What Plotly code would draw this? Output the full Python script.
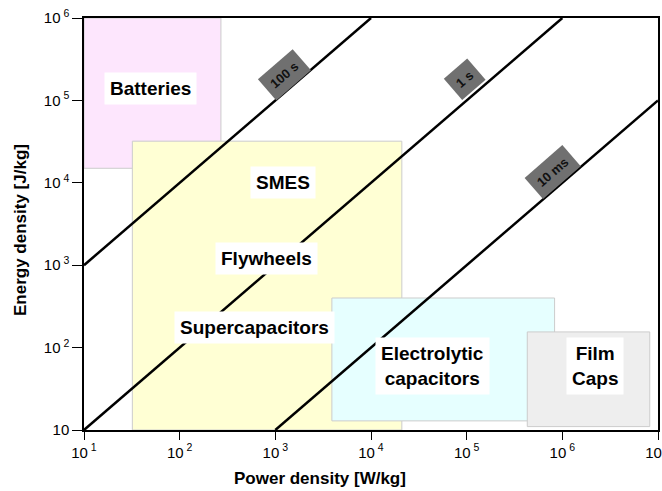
import math
import plotly.graph_objects as go

# Technology regions: [P_min, P_max] W/kg, [E_min, E_max] J/kg
regions = ["Batteries", "SMES/Flywheels/Supercapacitors", "Electrolytic capacitors", "Film Caps"]
p_min = [10, 32, 3.9e3, 4.3e5]
p_max = [270, 2.1e4, 8.3e5, 8.2e6]
e_min = [1.5e4, 10, 12.9, 11]
e_max = [1e6, 3.2e4, 400, 155]
fills = ["#fde6fd", "#ffffd4", "#e6ffff", "#eeeeee"]

# Region labels (text, P, E)
label_text = ["Batteries", "SMES", "Flywheels", "Supercapacitors",
              "Electrolytic<br>capacitors", "Film<br>Caps"]
label_p = [49, 1200, 800, 600, 4.4e4, 2.2e6]
label_e = [1.4e5, 1.0e4, 1.2e3, 1.75e2, 60, 60]

# Constant discharge-time lines E = P * t
time_const = [100, 1, 0.01]
time_label = ["100 s", "1 s", "10 ms"]
time_label_p = [1260, 9.5e4, 7.8e5]
time_label_e = [2.05e5, 1.78e5, 1.35e4]

x_range = [10, 1e7]
y_range = [10, 1e6]

fig = go.Figure()

for i in range(len(regions)):
    fig.add_trace(go.Scatter(
        x=[p_min[i], p_max[i], p_max[i], p_min[i], p_min[i]],
        y=[e_min[i], e_min[i], e_max[i], e_max[i], e_min[i]],
        mode="lines", fill="toself", fillcolor=fills[i],
        line=dict(color="#cccccc", width=1), hoverinfo="skip", showlegend=False))

for t in time_const:
    x0 = max(x_range[0], y_range[0] / t)
    x1 = min(x_range[1], y_range[1] / t)
    fig.add_trace(go.Scatter(x=[x0, x1], y=[x0 * t, x1 * t], mode="lines",
                             line=dict(color="black", width=2.5),
                             hoverinfo="skip", showlegend=False))

font_main = "Liberation Sans, Arial, Helvetica, sans-serif"

for txt, p, e in zip(label_text, label_p, label_e):
    fig.add_annotation(x=math.log10(p), y=math.log10(e), text="<b>" + txt + "</b>",
                       showarrow=False, bgcolor="white", borderpad=5,
                       font=dict(family=font_main, size=19, color="black"))

for txt, p, e in zip(time_label, time_label_p, time_label_e):
    fig.add_annotation(x=math.log10(p), y=math.log10(e), text="<b>" + txt + "</b>",
                       showarrow=False, bgcolor="#707070", borderpad=6,
                       textangle=-41,
                       font=dict(family=font_main, size=13, color="#111111"))

# Axis titles
fig.add_annotation(xref="paper", yref="paper", x=(320 - 84) / 574, y=-(478 - 430) / 412,
                   xanchor="center", yanchor="middle",
                   text="<b>Power density [W/kg]</b>", showarrow=False,
                   font=dict(family=font_main, size=17, color="black"))
fig.add_annotation(xref="paper", yref="paper", x=-(84 - 20) / 574, y=(430 - 230) / 412,
                   xanchor="center", yanchor="middle",
                   text="<b>Energy density [J/kg]</b>", showarrow=False, textangle=-90,
                   font=dict(family=font_main, size=17, color="black"))

x_ticks = [10, 100, 1e3, 1e4, 1e5, 1e6, 1e7]
x_ticktext = ["10<sup> 1</sup>", "10<sup> 2</sup>", "10<sup> 3</sup>", "10<sup> 4</sup>",
              "10<sup> 5</sup>", "10<sup> 6</sup>", "10<sup> 7</sup>"]
y_ticks = [10, 100, 1e3, 1e4, 1e5, 1e6]
y_ticktext = ["10", "10<sup> 2</sup>", "10<sup> 3</sup>", "10<sup> 4</sup>",
              "10<sup> 5</sup>", "10<sup> 6</sup>"]

fig.update_xaxes(type="log", range=[1, 7], tickvals=x_ticks, ticktext=x_ticktext,
                 ticks="outside", ticklen=8, tickwidth=1, tickcolor="black",
                 showline=True, linecolor="black", linewidth=1.5, mirror=True,
                 showgrid=False, zeroline=False, automargin=False,
                 ticklabeloverflow="allow",
                 tickfont=dict(family=font_main, size=15, color="black"))
fig.update_yaxes(type="log", range=[1, 6], tickvals=y_ticks, ticktext=y_ticktext,
                 ticks="outside", ticklen=10, tickwidth=1, tickcolor="black",
                 showline=True, linecolor="black", linewidth=1.5, mirror=True,
                 showgrid=False, zeroline=False, automargin=False,
                 ticklabeloverflow="allow",
                 tickfont=dict(family=font_main, size=15, color="black"))

fig.update_layout(width=662, height=491, margin=dict(l=84, r=4, t=18, b=61),
                  plot_bgcolor="white", paper_bgcolor="white")

fig.write_html("out.html", config={"displayModeBar": False},
               post_script="document.body.style.margin='0';")
